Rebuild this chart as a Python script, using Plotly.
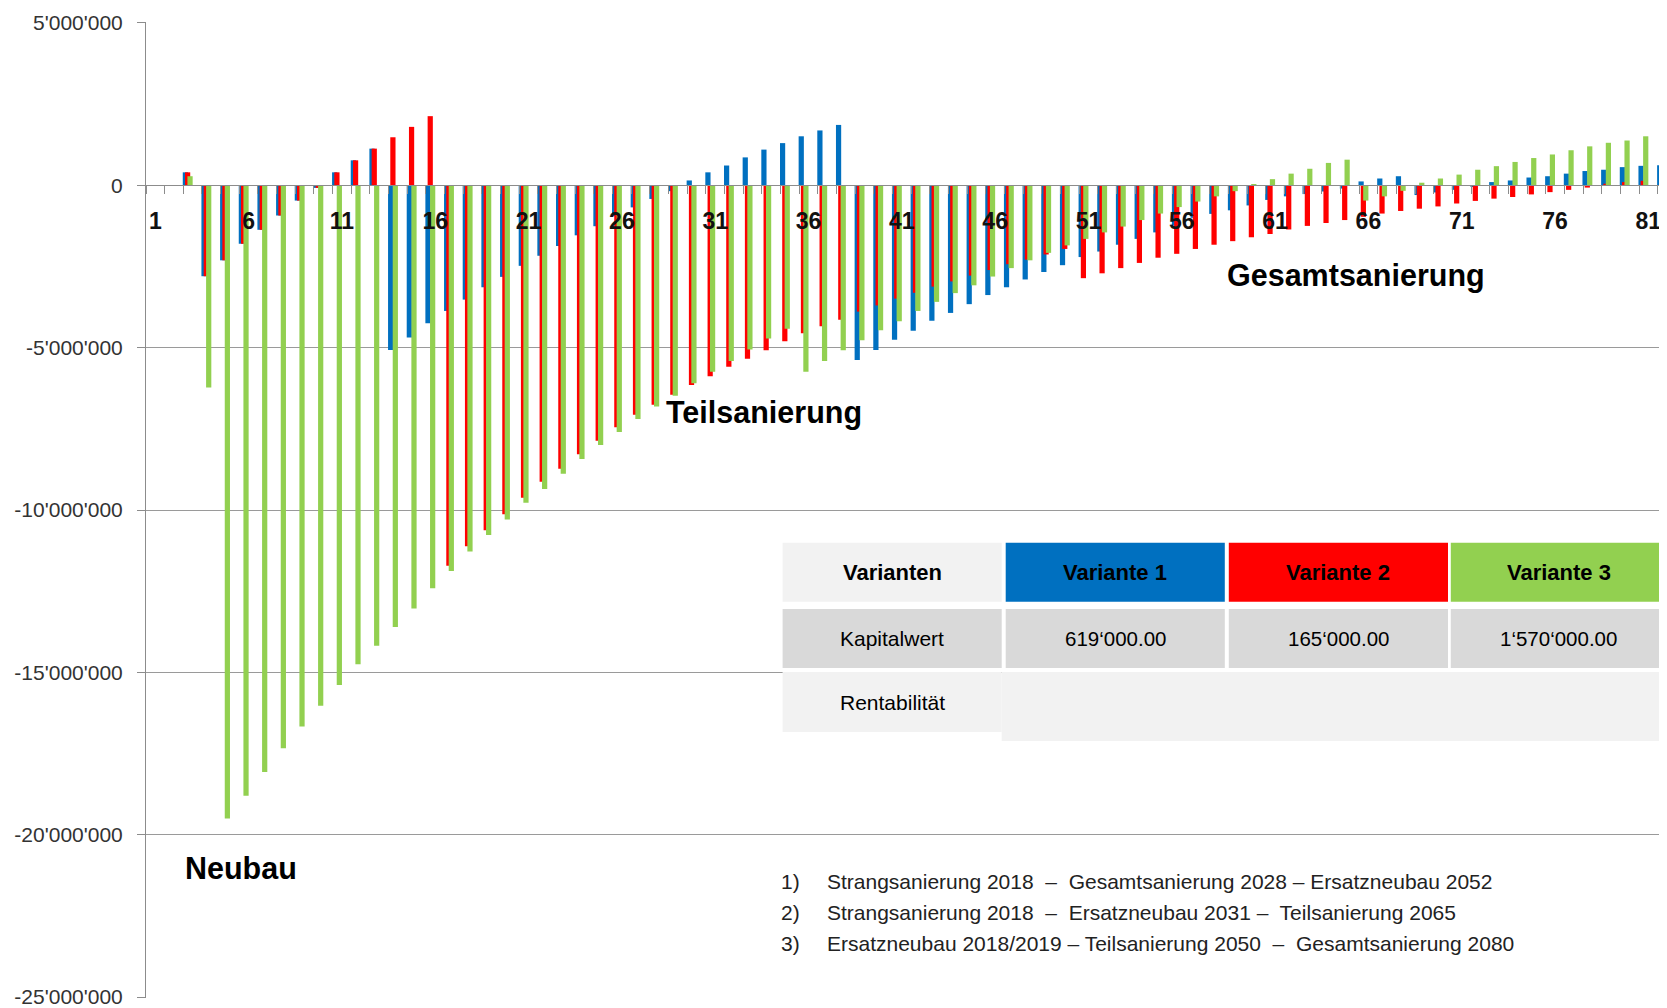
import plotly.graph_objects as go

# ---------------- data (values in CHF million) ----------------
years = list(range(1, 83))

variante1 = [0, 0, 0.40, -2.80, -2.31, -1.80, -1.37, -0.93, -0.47, -0.08,
             0.40, 0.77, 1.13, -5.07, -4.69, -4.25, -3.87, -3.52, -3.14, -2.82,
             -2.48, -2.17, -1.87, -1.54, -1.26, -0.95, -0.68, -0.42, -0.18, 0.15,
             0.40, 0.61, 0.86, 1.10, 1.30, 1.51, 1.69, 1.86, -5.38, -5.07,
             -4.76, -4.48, -4.17, -3.93, -3.66, -3.38, -3.14, -2.90, -2.67, -2.46,
             -2.21, -2.04, -1.83, -1.65, -1.45, -1.24, -1.00, -0.88, -0.77, -0.62,
             -0.45, -0.34, -0.27, -0.19, -0.10, 0.12, 0.21, 0.28, -0.30, -0.22,
             -0.14, -0.04, 0.10, 0.15, 0.24, 0.28, 0.36, 0.44, 0.48, 0.56,
             0.60, 0.62]

variante2 = [0, 0, 0.40, -2.80, -2.31, -1.80, -1.37, -0.93, -0.47, -0.08,
             0.40, 0.77, 1.13, 1.48, 1.80, 2.13, -11.72, -11.12, -10.62, -10.13,
             -9.62, -9.13, -8.73, -8.28, -7.87, -7.45, -7.07, -6.76, -6.45, -6.15,
             -5.88, -5.59, -5.34, -5.08, -4.80, -4.56, -4.34, -4.14, -3.89, -3.70,
             -3.49, -3.31, -3.12, -2.96, -2.78, -2.61, -2.43, -2.29, -2.13, -1.96,
             -2.86, -2.71, -2.55, -2.39, -2.23, -2.11, -1.96, -1.83, -1.72, -1.60,
             -1.50, -1.36, -1.25, -1.16, -1.07, -0.97, -0.87, -0.79, -0.72, -0.65,
             -0.56, -0.48, -0.41, -0.36, -0.28, -0.21, -0.14, -0.07, 0.05, 0.10,
             0.14, 0.17]

variante3 = [0, 0, 0.28, -6.23, -19.50, -18.80, -18.07, -17.34, -16.67, -16.03,
             -15.39, -14.75, -14.18, -13.60, -13.03, -12.41, -11.88, -11.28, -10.77, -10.29,
             -9.78, -9.35, -8.88, -8.43, -8.00, -7.60, -7.20, -6.81, -6.48, -6.10,
             -5.74, -5.41, -5.06, -4.72, -4.42, -5.74, -5.41, -5.08, -4.77, -4.46,
             -4.19, -3.87, -3.59, -3.32, -3.08, -2.81, -2.55, -2.31, -2.08, -1.85,
             -1.65, -1.45, -1.27, -1.07, -0.87, -0.67, -0.50, -0.34, -0.18, 0.04,
             0.19, 0.36, 0.51, 0.69, 0.79, -0.47, -0.34, -0.17, 0.08, 0.21,
             0.33, 0.48, 0.59, 0.72, 0.84, 0.95, 1.08, 1.20, 1.31, 1.38,
             1.51, 1.57]

series_names = ["Variante 1", "Variante 2", "Variante 3"]
series_colors = ["#0070C0", "#FF0000", "#92D050"]

x_tickvals = [1, 6, 11, 16, 21, 26, 31, 36, 41, 46, 51, 56, 61, 66, 71, 76, 81]
x_ticktext = [str(v) for v in x_tickvals]
y_tickvals = [5e6, 0, -5e6, -10e6, -15e6, -20e6, -25e6]
y_ticktext = ["5'000'000", "0", "-5'000'000", "-10'000'000", "-15'000'000",
              "-20'000'000", "-25'000'000"]

table_header = ["Varianten", "Variante 1", "Variante 2", "Variante 3"]
table_rows = ["Kapitalwert", "Rentabilität"]
kapitalwert = ["619‘000.00", "165‘000.00", "1‘570‘000.00"]

notes_nr = ["1)", "2)", "3)"]
notes_txt = ["Strangsanierung 2018\u00a0 –\u00a0 Gesamtsanierung 2028 – Ersatzneubau 2052",
             "Strangsanierung 2018\u00a0 –\u00a0 Ersatzneubau 2031 –\u00a0 Teilsanierung 2065",
             "Ersatzneubau 2018/2019 – Teilsanierung 2050\u00a0 –\u00a0 Gesamtsanierung 2080"]

phase_labels = ["Neubau", "Teilsanierung", "Gesamtsanierung"]

# ---------------- layout helpers ----------------
# the page body adds an 8 px offset; positions below are given in window pixels
OFF = 8
W, H = 1667, 1008
ML, MT = 146 - OFF, 22 - OFF
PW, PH = 1521, 976
MR = W - ML - PW
MB = H - MT - PH

def px(x):
    return (x - OFF - ML) / PW

def py(y):
    return (MT + PH - (y - OFF)) / PH

FONT = "Liberation Sans, Arial, sans-serif"
Y_PAD = 0.03e6

fig = go.Figure()
series = [variante1, variante2, variante3]
offsets = [-0.53, -0.41, -0.28]
for vals, name, col, off in zip(series, series_names, series_colors, offsets):
    fig.add_trace(go.Bar(x=years, y=[v * 1e6 for v in vals], name=name,
                         marker=dict(color=col, line=dict(width=0)),
                         width=0.28, offset=off))

fig.update_layout(
    width=W, height=H,
    margin=dict(l=ML, r=MR, t=MT, b=MB, autoexpand=False),
    plot_bgcolor="white", paper_bgcolor="white",
    showlegend=False, barmode="overlay",
    font=dict(family=FONT, color="#222"),
)

fig.update_xaxes(
    range=[0.5, 82.0], tickmode="array", tickvals=x_tickvals, ticktext=x_ticktext,
    tickfont=dict(family=FONT, size=23, color="#111", weight="bold"),
    ticks="", showgrid=False, zeroline=False, automargin=False,
    anchor="free", position=(25e6 + Y_PAD) / (30e6 + 2 * Y_PAD),
    showline=True, linecolor="#8c8c8c", linewidth=1,
    minor=dict(tick0=0.5, dtick=1, ticks="outside", ticklen=8,
               tickcolor="#8c8c8c", tickwidth=1, showgrid=False),
    ticklabelstandoff=15,
)
fig.update_yaxes(
    range=[-25e6 - Y_PAD, 5e6 + Y_PAD], tickmode="array", tickvals=y_tickvals,
    ticktext=y_ticktext,
    tickfont=dict(family=FONT, size=21, color="#333"),
    showgrid=True, gridcolor="#9a9a9a", gridwidth=1, zeroline=False, automargin=False,
    showline=True, linecolor="#8c8c8c", linewidth=1,
    ticks="outside", ticklen=8, tickcolor="#8c8c8c", ticklabelstandoff=10,
)

# phase labels
phase_pos = [(183, 868), (664, 412), (1225, 275)]
for txt, (xx, yy) in zip(phase_labels, phase_pos):
    fig.add_annotation(xref="paper", yref="paper", x=px(xx), y=py(yy), text=txt,
                       showarrow=False, xanchor="left", yanchor="middle",
                       font=dict(family=FONT, size=30.5, color="black", weight="bold"))

# table
col_x = [(782.6, 1001.7), (1005.7, 1224.8), (1228.8, 1448.0), (1450.8, 1680.0)]
hdr_y = (542.7, 601.7)
row2_y = (609.0, 668.0)
row3_y = (672.0, 732.0)
hdr_fills = ["#F2F2F2"] + series_colors

def rect(x0, x1, y0, y1, color):
    fig.add_shape(type="rect", xref="paper", yref="paper",
                  x0=px(x0), x1=px(x1), y0=py(y1), y1=py(y0),
                  fillcolor=color, line=dict(width=0), layer="above")

for cx, fill in zip(col_x, hdr_fills):
    rect(cx[0], cx[1], hdr_y[0], hdr_y[1], fill)
    rect(cx[0], cx[1], row2_y[0], row2_y[1], "#D9D9D9")
rect(col_x[0][0], col_x[0][1], row3_y[0], row3_y[1], "#F2F2F2")
rect(col_x[0][1], 1680, row3_y[0], 741.0, "#F2F2F2")

def cell_text(cx, cy, txt, bold, size):
    x_mid = (cx[0] + min(cx[1], 1667.0)) / 2
    fig.add_annotation(xref="paper", yref="paper", x=px(x_mid),
                       y=py((cy[0] + cy[1]) / 2), text=txt, showarrow=False,
                       xanchor="center", yanchor="middle",
                       font=dict(family=FONT, size=size, color="black",
                                 weight="bold" if bold else "normal"))

for cx, txt in zip(col_x, table_header):
    cell_text(cx, hdr_y, txt, True, 22)
cell_text(col_x[0], row2_y, table_rows[0], False, 21)
for cx, txt in zip(col_x[1:], kapitalwert):
    cell_text(cx, row2_y, txt, False, 20.5)
cell_text(col_x[0], row3_y, table_rows[1], False, 21)

# notes
note_y = [881, 912, 943]
for nr, txt, yy in zip(notes_nr, notes_txt, note_y):
    fig.add_annotation(xref="paper", yref="paper", x=px(779), y=py(yy), text=nr,
                       showarrow=False, xanchor="left", yanchor="middle",
                       font=dict(family=FONT, size=21, color="#222"))
    fig.add_annotation(xref="paper", yref="paper", x=px(825), y=py(yy), text=txt,
                       showarrow=False, xanchor="left", yanchor="middle",
                       font=dict(family=FONT, size=21, color="#222"))

fig.write_html("out.html")
